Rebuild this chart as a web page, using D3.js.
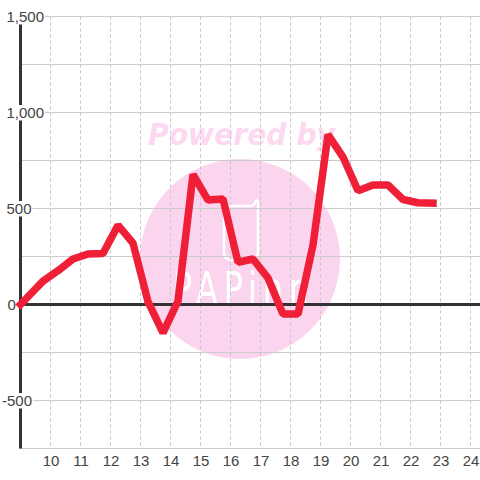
<!DOCTYPE html>
<html><head><meta charset="utf-8">
<script src="https://cdn.jsdelivr.net/npm/d3@7"></script>
<style>
html,body{margin:0;padding:0;background:#fff}
svg{display:block}
</style></head><body>
<svg id="c" width="480" height="480"></svg>
<script>
const xValues=[9,9.75,10.25,10.75,11.25,11.75,12.25,12.75,13.25,13.75,14.25,14.75,15.25,15.75,16.25,16.75,17.25,17.75,18.25,18.75,19.25,19.75,20.25,20.75,21.25,21.75,22.25,22.75];
const yValues=[0,122,176,237,263,265,413,320,15,-148,18,677,544,550,220,237,138,-50,-50,310,885,768,592,622,622,547,530,528];
const xTicks=[10,11,12,13,14,15,16,17,18,19,20,21,22,23,24];
const yGrid=[-750,-500,-250,0,250,500,750,1000,1250,1500];
const yLabels=[-500,0,500,1000,1500];
const labelFont='"Liberation Sans",Arial,sans-serif';
const svg=d3.select("#c");
const x=d3.scaleLinear().domain([9,25]).range([20.5,500.5]);
const y=d3.scaleLinear().domain([-750,1500]).range([448.5,16.5]);
// watermark
const wm=svg.append("g");
wm.append("circle").attr("cx",240).attr("cy",259).attr("r",100).attr("fill","#fbd5ee");
wm.append("text").attr("x",241.5).attr("y",145).attr("text-anchor","middle").attr("font-size",30).attr("font-weight","bold").attr("font-style","italic").attr("fill","#fcd9f0").style("font-family","'DejaVu Sans'").attr("textLength",187).attr("lengthAdjust","spacingAndGlyphs").text("Powered by");
wm.append("path").attr("d","M224,206 H250 Q255,206 255,202 Q257,198 258,202 V252 Q258,260 250,260 H232 Q224,260 224,252 Z").attr("fill","none").attr("stroke","#fff").attr("stroke-width",2.5);
wm.append("text").attr("transform","translate(241,304) scale(0.72,1)").attr("text-anchor","middle").attr("font-size",44).attr("fill","#fff").style("font-family","'DejaVu Sans'").attr("textLength",189).attr("lengthAdjust","spacing").text("PAPinn");
// grid
const grid=svg.append("g");
grid.selectAll("line.v").data(xTicks).join("line").attr("class","v").attr("x1",d=>x(d)).attr("x2",d=>x(d)).attr("y1",y(1500)).attr("y2",y(-750)).attr("stroke","#c4c4c4").attr("stroke-dasharray","3,3");
grid.selectAll("line.h").data(yGrid).join("line").attr("class","h").attr("x1",20).attr("x2",480).attr("y1",d=>y(d)).attr("y2",d=>y(d)).attr("stroke","#ccc");
// axes
const axisCol="#333";
svg.append("line").attr("x1",x(9)).attr("x2",x(9)).attr("y1",y(1500)).attr("y2",y(-750)).attr("stroke",axisCol).attr("stroke-width",3);
svg.append("line").attr("x1",20).attr("x2",480).attr("y1",y(0)).attr("y2",y(0)).attr("stroke",axisCol).attr("stroke-width",3);
const yAxis=d3.axisLeft(y).tickValues(yLabels).tickSize(0).tickFormat(d=>d3.format(",")(d).replace("−","-"));
const gy=svg.append("g").call(yAxis);
gy.select(".domain").remove();
gy.attr("font-family",labelFont).attr("font-size",15);
gy.selectAll(".tick text").attr("text-anchor","start").attr("x",d=>d<0?2:(d===0?7.5:6.5)).attr("dy",null).attr("y",5).attr("fill","#444");
gy.selectAll(".tick").each(function(d){
  const t=d3.select(this), b=t.select("text").node().getBBox();
  if(d!==0) t.insert("rect","text").attr("x",b.x-1).attr("y",-8).attr("width",b.width+2).attr("height",15.5).attr("fill","#fff");
});
const xAxis=d3.axisBottom(x).tickValues(xTicks).tickSize(0).tickFormat(d3.format("d"));
const gx=svg.append("g").attr("transform","translate(0,448.5)").call(xAxis);
gx.select(".domain").remove();
gx.attr("font-family",labelFont).attr("font-size",15);
gx.selectAll(".tick text").attr("y",17.5).attr("dy",null).attr("fill","#444");
// line
const pts=xValues.map((v,i)=>[v,yValues[i]]);
svg.append("path").attr("d",d3.line().x(d=>x(d[0])).y(d=>y(d[1]))(pts)).attr("fill","none").attr("stroke","#f01f38").attr("stroke-width",7.5).attr("stroke-linejoin","bevel").attr("stroke-linecap","square");
</script></body></html>
